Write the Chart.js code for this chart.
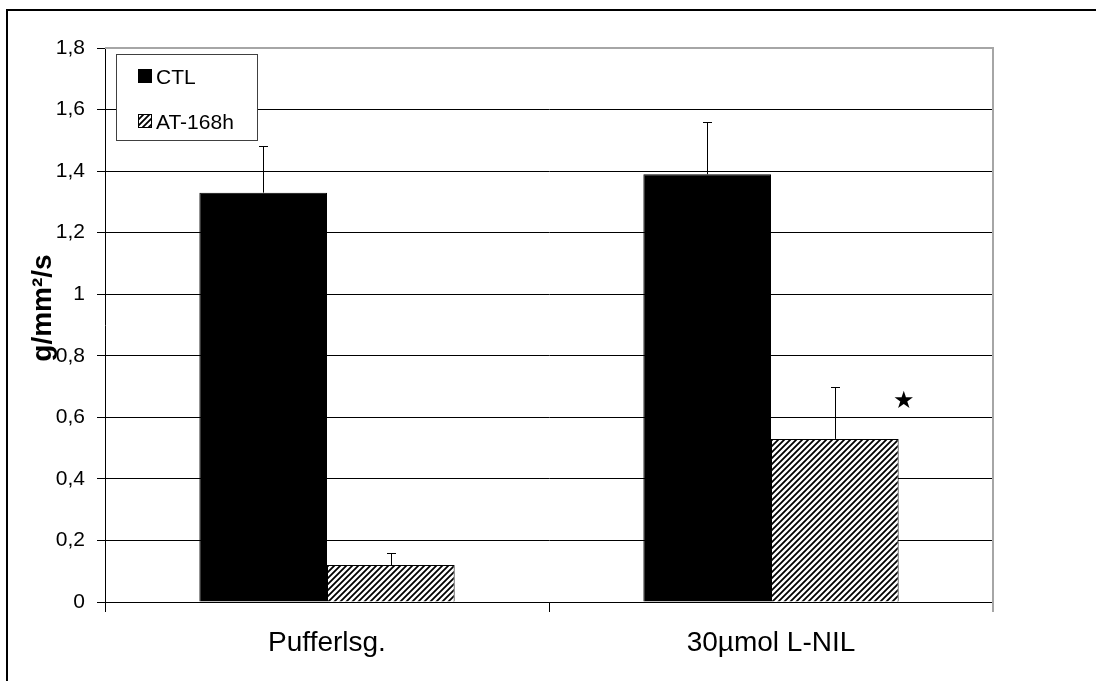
<!DOCTYPE html>
<html>
<head>
<meta charset="utf-8">
<title>g/mm²/s</title>
<script src="https://cdn.jsdelivr.net/npm/chart.js@4.4.1/dist/chart.umd.min.js"></script>
<style>
    html, body { margin: 0; padding: 0; background: #fff; }
    #wrap { position: relative; width: 1096px; height: 681px; }
</style>
</head>
<body>
<div id="wrap"><canvas id="chart" width="1096" height="681"></canvas></div>
<script>
// Daten
const categories = ["Pufferlsg.", "30µmol L-NIL"];
const seriesNames = ["CTL", "AT-168h"];
const ctlValues = [1.33, 1.39];
const ctlErrors = [0.15, 0.17];
const atValues = [0.12, 0.53];
const atErrors = [0.04, 0.17];
// Signifikanz-Stern: [Kategorie-Index, Wert]
const starMarks = [[1, 0.65]];
const yTicks = [0, 0.2, 0.4, 0.6, 0.8, 1, 1.2, 1.4, 1.6, 1.8];

const FONT = "'Liberation Sans', Arial, sans-serif";

// Schraffur-Muster fuer AT-168h
function makeHatch() {
    const c = document.createElement("canvas");
    c.width = 6; c.height = 6;
    const g = c.getContext("2d");
    g.fillStyle = "#fff";
    g.fillRect(0, 0, 6, 6);
    g.strokeStyle = "#000";
    g.lineWidth = 1.8;
    g.beginPath();
    g.moveTo(-1, 7); g.lineTo(7, -1);
    g.moveTo(-4, 4); g.lineTo(4, -4);
    g.moveTo(2, 10); g.lineTo(10, 2);
    g.stroke();
    return g.createPattern(c, "repeat");
}
const hatch = makeHatch();

// Rahmen, Achsentitel, Legende, Fehlerbalken, Stern
const extras = {
    id: "extras",
    beforeDraw(chart) {
        const ctx = chart.ctx;
        ctx.save();
        ctx.fillStyle = "#fff";
        ctx.fillRect(0, 0, chart.width, chart.height);
        ctx.strokeStyle = "#000";
        ctx.lineWidth = 2;
        ctx.beginPath();
        ctx.moveTo(7, 681); ctx.lineTo(7, 10); ctx.lineTo(1096, 10);
        ctx.stroke();
        ctx.restore();
    },
    beforeDatasetsDraw(chart) {
        const ctx = chart.ctx, a = chart.chartArea;
        ctx.save();
        ctx.strokeStyle = "#a6a6a6";
        ctx.lineWidth = 2;
        ctx.beginPath();
        ctx.moveTo(a.left, a.top); ctx.lineTo(a.right, a.top); ctx.lineTo(a.right, a.bottom + 10);
        ctx.stroke();
        ctx.restore();
    },
    afterDatasetsDraw(chart) {
        const ctx = chart.ctx;
        const y = chart.scales.y;
        ctx.save();
        ctx.strokeStyle = "#000";
        ctx.lineWidth = 1;
        chart.data.datasets.forEach((ds, i) => {
            const meta = chart.getDatasetMeta(i);
            meta.data.forEach((bar, j) => {
                const x = Math.round(bar.x) + 0.5;
                const top = Math.round(y.getPixelForValue(ds.data[j] + ds.errors[j])) + 0.5;
                ctx.beginPath();
                ctx.moveTo(x, bar.y);
                ctx.lineTo(x, top);
                ctx.moveTo(x - 4.5, top);
                ctx.lineTo(x + 4.5, top);
                ctx.stroke();
            });
        });

        // Stern
        const atMeta = chart.getDatasetMeta(1);
        ctx.fillStyle = "#000";
        ctx.font = "24px 'DejaVu Sans'";
        ctx.textAlign = "center";
        ctx.textBaseline = "middle";
        starMarks.forEach(([idx, val]) => {
            const bar = atMeta.data[idx];
            ctx.fillText("★", bar.x + bar.width / 2 + 5, y.getPixelForValue(val));
        });

        // Legende
        ctx.fillStyle = "#fff";
        ctx.fillRect(116, 54, 141, 86);
        ctx.strokeStyle = "#404040";
        ctx.strokeRect(116.5, 54.5, 141, 86);
        ctx.font = "21px " + FONT;
        ctx.textAlign = "left";
        ctx.textBaseline = "alphabetic";
        chart.data.datasets.forEach((ds, i) => {
            const sy = 69 + i * 45;
            ctx.fillStyle = ds.backgroundColor;
            ctx.fillRect(138, sy, 14, 14);
            ctx.strokeStyle = "#000";
            ctx.strokeRect(138.5, sy + 0.5, 13, 13);
            ctx.fillStyle = "#000";
            ctx.fillText(ds.label, 156, sy + 14.5);
        });

        // Y-Achsentitel
        ctx.save();
        ctx.translate(43, 308);
        ctx.rotate(-Math.PI / 2);
        ctx.font = "bold 28px " + FONT;
        ctx.textAlign = "center";
        ctx.textBaseline = "middle";
        ctx.fillText("g/mm²/s", 0, 0);
        ctx.restore();
        ctx.restore();
    }
};

new Chart(document.getElementById("chart"), {
    type: "bar",
    data: {
        labels: categories,
        datasets: [
            {
                label: seriesNames[0],
                data: ctlValues,
                errors: ctlErrors,
                backgroundColor: "#000",
                borderColor: "#000",
                borderWidth: 1
            },
            {
                label: seriesNames[1],
                data: atValues,
                errors: atErrors,
                backgroundColor: hatch,
                borderColor: "#000",
                borderWidth: 1
            }
        ]
    },
    options: {
        responsive: false,
        animation: false,
        devicePixelRatio: 1,
        categoryPercentage: 0.575,
        barPercentage: 1.0,
        layout: { padding: { left: 0, top: 48, right: 103, bottom: 0 } },
        plugins: {
            legend: { display: false },
            tooltip: { enabled: false }
        },
        scales: {
            x: {
                offset: true,
                border: { color: "#000", width: 1 },
                grid: { drawOnChartArea: false, tickLength: 10, color: "#000" },
                ticks: {
                    color: "#000",
                    padding: 14,
                    font: { family: FONT, size: 28 }
                },
                afterFit(scale) { scale.height = 79; }
            },
            y: {
                min: 0,
                max: 1.8,
                afterBuildTicks(scale) { scale.ticks = yTicks.map(v => ({ value: v })); },
                border: { color: "#000", width: 1 },
                grid: {
                    color: c => (c.tick && Math.abs(c.tick.value - 1.8) < 1e-6) ? "rgba(0,0,0,0)" : "#000",
                    tickColor: "#000",
                    tickLength: 8
                },
                ticks: {
                    color: "#000",
                    padding: 12,
                    font: { family: FONT, size: 21 },
                    callback: v => String(Math.round(v * 10) / 10).replace(".", ",")
                },
                afterFit(scale) { scale.width = 105; }
            }
        }
    },
    plugins: [extras]
});
</script>
</body>
</html>
